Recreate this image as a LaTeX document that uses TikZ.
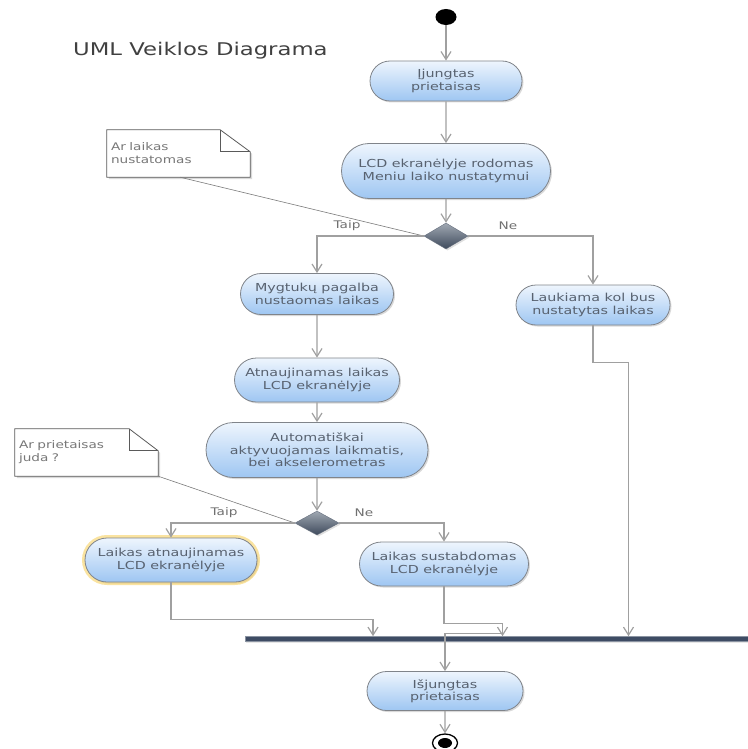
\documentclass[tikz,border=0pt]{standalone}
\usepackage{fontspec}
\setmainfont{DejaVu Sans}[FakeStretch=1.3]
\usetikzlibrary{shapes.geometric,shapes.misc,arrows.meta,shadows,calc}
\pgfdeclarelayer{bg}
\pgfsetlayers{bg,main}
\definecolor{txt}{RGB}{88,98,112}
\definecolor{topc}{RGB}{238,245,253}
\definecolor{botc}{RGB}{158,198,242}
\definecolor{edgec}{RGB}{128,132,138}
\definecolor{arrc}{RGB}{160,160,160}
\definecolor{dtop}{RGB}{160,168,178}
\definecolor{dbot}{RGB}{62,74,92}
\definecolor{barc}{RGB}{62,76,100}
\definecolor{glow}{RGB}{246,208,96}
\definecolor{notec}{RGB}{90,90,90}
\definecolor{notetxt}{RGB}{120,120,120}
\definecolor{lblc}{RGB}{112,112,112}
\begin{document}
\begin{tikzpicture}[x=1pt,y=1pt,
  act/.style={rounded rectangle, draw=edgec, line width=0.8pt,
    top color=topc, bottom color=botc, text=txt,
    font=\fontsize{11}{12.5}\selectfont, align=center, inner sep=0pt,
    drop shadow={shadow xshift=1.5pt,shadow yshift=-1.5pt,opacity=0.3}},
  decis/.style={diamond, minimum width=44pt, minimum height=26pt, inner sep=0pt,
    top color=dtop, bottom color=dbot, draw=dbot!80, line width=0.4pt,
    drop shadow={shadow xshift=1.5pt,shadow yshift=-1.5pt,opacity=0.25}},
  arr/.style={draw=arrc, line width=1.2pt, -{Straight Barb[length=8pt,width=10pt,line width=1.2pt]}},
  notetext/.style={text width=135pt, align=left, minimum height=47pt,
    inner xsep=4pt, inner ysep=0pt, text=notetxt, font=\fontsize{10.5}{13}\selectfont},
  notebox/.style={draw=notec, line width=0.8pt, fill=white,
    drop shadow={shadow xshift=2pt,shadow yshift=-2pt,opacity=0.3}},
  notefold/.style={draw=notec, line width=0.8pt},
  noteline/.style={draw=notec!80, line width=0.6pt},
  lbl/.style={text=lblc, font=\fontsize{10.5}{12}\selectfont, inner sep=0pt},
  titlestyle/.style={text=black!75, font=\fontsize{17.5}{20}\selectfont, inner sep=0pt}
]
\useasboundingbox (0,0) rectangle (747,-749);

\node[titlestyle, anchor=base west] (title) at (73,-56) {UML Veiklos Diagrama};

% start / end
\node[ellipse, fill=black, minimum width=21pt, minimum height=16pt, inner sep=0pt] (st) at (446,-17) {};

% activities
\node[act, minimum width=152pt, minimum height=40pt] (n1) at (446,-81) {Įjungtas\\prietaisas};
\node[act, minimum width=209pt, minimum height=55pt] (n2) at (446,-171) {LCD ekranėlyje rodomas\\Meniu laiko nustatymui};
\node[decis] (d1) at (446,-236) {};
\node[act, minimum width=153pt, minimum height=41pt] (n3) at (317,-294) {Mygtukų pagalba\\nustaomas laikas};
\node[act, minimum width=154pt, minimum height=40pt] (nR) at (593,-305) {Laukiama kol bus\\nustatytas laikas};
\node[act, minimum width=165pt, minimum height=44pt] (n4) at (317,-380) {Atnaujinamas laikas\\LCD ekranėlyje};
\node[act, minimum width=222pt, minimum height=55pt] (n5) at (317,-450) {Automatiškai\\aktyvuojamas laikmatis,\\bei akselerometras};
\node[decis, minimum height=24pt] (d2) at (317,-523) {};
\node[act, minimum width=172pt, minimum height=44pt,
  preaction={draw=glow, line width=6pt, opacity=0.6}] (n6) at (171,-560) {Laikas atnaujinamas\\LCD ekranėlyje};
\node[act, minimum width=169pt, minimum height=44pt] (n7) at (444,-564) {Laikas sustabdomas\\LCD ekranėlyje};
\node[rectangle, fill=barc, draw=barc!60, line width=0.6pt, minimum width=515pt, minimum height=5pt, inner sep=0pt,
  drop shadow={shadow xshift=1pt,shadow yshift=-1pt,opacity=0.2}] (bar) at (502.5,-639) {};
\node[act, minimum width=156pt, minimum height=39pt] (n8) at (445,-691) {Išjungtas\\prietaisas};

\node[ellipse, draw=black, line width=1.3pt, fill=white, minimum width=25pt, minimum height=18pt, inner sep=0pt] (fin) at (445,-743) {};
\node[ellipse, fill=black, minimum width=14pt, minimum height=10pt, inner sep=0pt] (finin) at (fin.center) {};

% notes
\node[notetext] (na) at (178.5,-153.5) {Ar laikas\\nustatomas};
\node[notetext] (nb) at (86.5,-452.5) {Ar prietaisas\\juda ?};
\begin{pgfonlayer}{bg}
\draw[notebox] (na.north west) -- ([xshift=-30pt]na.north east) -- ([yshift=-22pt]na.north east) -- (na.south east) -- (na.south west) -- cycle;
\draw[notefold] ([xshift=-30pt]na.north east) |- ([yshift=-22pt]na.north east);
\draw[notebox] (nb.north west) -- ([xshift=-29pt]nb.north east) -- ([yshift=-22pt]nb.north east) -- (nb.south east) -- (nb.south west) -- cycle;
\draw[notefold] ([xshift=-29pt]nb.north east) |- ([yshift=-22pt]nb.north east);
\draw[noteline] ([xshift=1.5pt]na.south) -- (d1.west);
\draw[noteline] (nb.south east) -- (d2.west);
\end{pgfonlayer}

% labels
\node[lbl] (t1) at (347,-226) {Taip};
\node[lbl] (ne1) at (508,-226) {Ne};
\node[lbl] (t2) at (224,-513) {Taip};
\node[lbl] (ne2) at (364,-513) {Ne};

% connectors
\draw[arr] (st) -- (n1);
\draw[arr] (n1) -- (n2);
\draw[arr] (n2) -- (d1);
\draw[arr] (d1.west) -| (n3.north);
\draw[arr] (d1.east) -| (nR.north);
\draw[arr] (n3) -- (n4);
\draw[arr] (n4) -- (n5);
\draw[arr] (n5) -- (d2);
\draw[arr] (d2.west) -| (n6.north);
\draw[arr] (d2.east) -| (n7.north);
\draw[arr] (n6.south) -- ++(0,-37) -| ([xshift=-129.5pt]bar.north);
\draw[arr] (n7.south) -- ++(0,-37) -| (bar.north);
\draw[arr] (nR.south) -- ++(0,-37) -| ([xshift=126pt]bar.north);
\draw[arr] ([yshift=3pt]bar.north) -| (n8.north);
\draw[arr] (n8) -- (fin);
\end{tikzpicture}
\end{document}
